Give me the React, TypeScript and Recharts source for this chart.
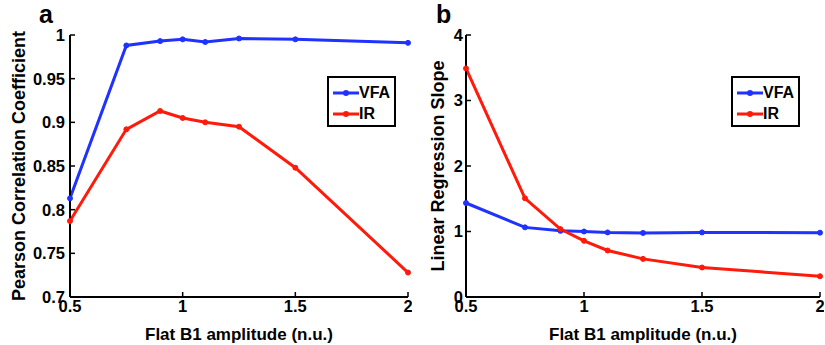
import React from 'react';
import { LineChart, Line, XAxis, YAxis, Label } from 'recharts';

const xValues = [0.5, 0.75, 0.9, 1.0, 1.1, 1.25, 1.5, 2.0];
const pearsonVFA = [0.813, 0.988, 0.993, 0.995, 0.992, 0.996, 0.995, 0.991];
const pearsonIR = [0.787, 0.892, 0.913, 0.905, 0.9, 0.895, 0.848, 0.728];
const slopeVFA = [1.435, 1.063, 1.01, 1.0, 0.986, 0.978, 0.986, 0.982];
const slopeIR = [3.49, 1.507, 1.037, 0.858, 0.71, 0.582, 0.45, 0.317];
const xTicks = [0.5, 1, 1.5, 2];
const pearsonTicks = [0.7, 0.75, 0.8, 0.85, 0.9, 0.95, 1];
const slopeTicks = [0, 1, 2, 3, 4];
const seriesNames = ['VFA', 'IR'];

const BLUE = '#1f32ff';
const RED = '#ff1a0a';
const FONT = '"Liberation Sans", Arial, sans-serif';

const dataA = xValues.map((x, i) => ({ x, VFA: pearsonVFA[i], IR: pearsonIR[i] }));
const dataB = xValues.map((x, i) => ({ x, VFA: slopeVFA[i], IR: slopeIR[i] }));

const fmt = (v: number) => String(+v.toFixed(2));

const LegendBox = ({ left }: { left: number }) => (
  <div
    style={{
      position: 'absolute',
      left,
      top: 76,
      border: '2px solid #000',
      background: '#fff',
      width: 65,
      height: 47,
      boxSizing: 'content-box',
      fontFamily: FONT,
      fontWeight: 'bold',
      fontSize: 16,
      color: '#000',
    }}
  >
    {seriesNames.map((n, i) => (
      <div key={n} style={{ display: 'flex', alignItems: 'center', height: 21, marginTop: i === 0 ? 4 : 0 }}>
        <svg width={27} height={10} style={{ marginLeft: 3 }}>
          <line x1={1} y1={5} x2={27} y2={5} stroke={i === 0 ? BLUE : RED} strokeWidth={3} />
          <circle cx={14} cy={5} r={3} fill={i === 0 ? BLUE : RED} />
        </svg>
        <span>{n}</span>
      </div>
    ))}
  </div>
);

const tickStyle = { fontFamily: FONT, fontWeight: 'bold' as const, fontSize: 16.5, fill: '#000' };
const axisLine = { stroke: '#000', strokeWidth: 2 };

type PanelProps = {
  data: any[];
  yTicks: number[];
  yDomain: [number, number];
  yLabel: string;
  yAxisWidth: number;
  yLabelX: number;
  yTickMargin: number;
};

const Panel = ({ data, yTicks, yDomain, yLabel, yAxisWidth, yLabelX, yTickMargin }: PanelProps) => (
  <LineChart width={412} height={345} data={data} margin={{ top: 35, right: 4, bottom: 0, left: 0 }}>
    <XAxis
      xAxisId="b"
      dataKey="x"
      type="number"
      domain={[0.5, 2]}
      ticks={xTicks}
      tickFormatter={fmt}
      height={48}
      tickSize={-5}
      tickMargin={8}
      axisLine={axisLine}
      tickLine={{ stroke: '#000', strokeWidth: 1.5 }}
      tick={tickStyle}
      interval={0}
    >
      <Label
        value="Flat B1 amplitude (n.u.)"
        position="insideBottom"
        offset={5}
        style={{ fontFamily: FONT, fontWeight: 'bold', fontSize: 17, fill: '#000' }}
      />
    </XAxis>
    <XAxis
      xAxisId="t"
      dataKey="x"
      type="number"
      orientation="top"
      domain={[0.5, 2]}
      ticks={xTicks}
      height={0}
      tickSize={-5}
      axisLine={axisLine}
      tickLine={{ stroke: '#000', strokeWidth: 1.5 }}
      tick={false}
    />
    <YAxis
      yAxisId="l"
      type="number"
      domain={yDomain}
      ticks={yTicks}
      tickFormatter={fmt}
      width={yAxisWidth}
      tickSize={-5}
      tickMargin={yTickMargin}
      axisLine={axisLine}
      tickLine={{ stroke: '#000', strokeWidth: 1.5 }}
      tick={tickStyle}
      interval={0}
    >
      <Label
        value={yLabel}
        angle={-90}
        position="insideLeft"
        dx={yLabelX}
        style={{ fontFamily: FONT, fontWeight: 'bold', fontSize: 18, fill: '#000', textAnchor: 'middle' }}
      />
    </YAxis>
    <YAxis
      yAxisId="r"
      type="number"
      orientation="right"
      domain={yDomain}
      ticks={yTicks}
      width={0}
      tickSize={-5}
      axisLine={axisLine}
      tickLine={{ stroke: '#000', strokeWidth: 1.5 }}
      tick={false}
    />
    <Line
      xAxisId="b"
      yAxisId="l"
      dataKey="VFA"
      stroke={BLUE}
      strokeWidth={3}
      dot={{ r: 2.5, fill: BLUE, stroke: BLUE, strokeWidth: 1 }}
      isAnimationActive={false}
    />
    <Line
      xAxisId="b"
      yAxisId="l"
      dataKey="IR"
      stroke={RED}
      strokeWidth={3}
      dot={{ r: 2.5, fill: RED, stroke: RED, strokeWidth: 1 }}
      isAnimationActive={false}
    />
  </LineChart>
);

export default function App() {
  return (
    <div style={{ position: 'absolute', left: 0, top: 0, width: 825, height: 345, background: '#fff' }}>
      <div style={{ position: 'absolute', left: 0, top: 0 }}>
        <Panel
          data={dataA}
          yTicks={pearsonTicks}
          yDomain={[0.7, 1]}
          yLabel="Pearson Correlation Coefficient"
          yAxisWidth={70}
          yLabelX={14}
          yTickMargin={10}
        />
        <LegendBox left={327} />
      </div>
      <div style={{ position: 'absolute', left: 412, top: 0 }}>
        <Panel
          data={dataB}
          yTicks={slopeTicks}
          yDomain={[0, 4]}
          yLabel="Linear Regression Slope"
          yAxisWidth={54}
          yLabelX={21}
          yTickMargin={8}
        />
        <LegendBox left={319} />
      </div>
      <div style={{ position: 'absolute', left: 39, top: 0, fontFamily: FONT, fontWeight: 'bold', fontSize: 25, color: '#000', lineHeight: 'normal' }}>
        a
      </div>
      <div style={{ position: 'absolute', left: 436, top: 0, fontFamily: FONT, fontWeight: 'bold', fontSize: 25, color: '#000', lineHeight: 'normal' }}>
        b
      </div>
    </div>
  );
}
